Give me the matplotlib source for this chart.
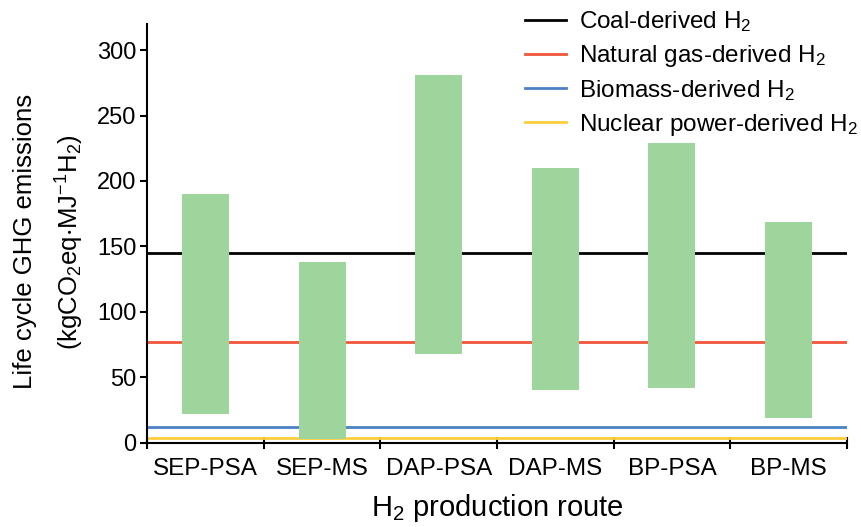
import matplotlib
matplotlib.use("Agg")
from matplotlib import pyplot as plt
import numpy as np

plt.rcParams['font.family'] = ['Liberation Sans', 'DejaVu Sans']
plt.rcParams['mathtext.fontset'] = 'custom'
plt.rcParams['mathtext.rm'] = 'Liberation Sans'
plt.rcParams['mathtext.it'] = 'Liberation Sans'
plt.rcParams['mathtext.default'] = 'regular'

routes = ['SEP-PSA', 'SEP-MS', 'DAP-PSA', 'DAP-MS', 'BP-PSA', 'BP-MS']
low = [22, 3, 68, 40, 42, 19]
high = [190, 138, 281, 210, 229, 169]

ref_names = ['Coal-derived H$_2$', 'Natural gas-derived H$_2$',
             'Biomass-derived H$_2$', 'Nuclear power-derived H$_2$']
ref_values = [145, 77, 12, 3.5]
ref_colors = ['#000000', '#f0553a', '#4a82c3', '#fdcd3c']

fig = plt.figure(figsize=(8.62, 5.27), dpi=100)
ax = fig.add_axes([0.1709, 0.160, 0.8114, 0.7945])

x = np.arange(len(routes))
ax.bar(x, np.array(high) - np.array(low), bottom=low, width=0.405,
       color='#9dd59c', zorder=3)

for name, val, col in zip(ref_names, ref_values, ref_colors):
    ax.plot([-0.5, 5.5], [val, val], color=col, lw=2, label=name, zorder=2)

ax.set_xlim(-0.5, 5.5)
ax.set_ylim(0, 320)
ax.set_yticks([0, 50, 100, 150, 200, 250, 300])
ax.set_xticks(np.arange(-0.5, 6, 1))
ax.set_xticklabels([])
ax.set_xticks(x, minor=True)
ax.set_xticklabels(routes, minor=True, fontsize=17.5)
ax.tick_params(axis='x', which='minor', length=0, pad=11)
ax.tick_params(axis='x', which='major', direction='inout', length=8, width=1.5)
ax.tick_params(axis='y', labelsize=17, length=5, width=1.5, pad=3)

for s in ['top', 'right']:
    ax.spines[s].set_visible(False)
for s in ['left', 'bottom']:
    ax.spines[s].set_linewidth(1.5)

ax.set_xlabel('H$_2$ production route', fontsize=21, labelpad=9)
ax.set_ylabel('Life cycle GHG emissions\n(kgCO$_2$eq$\\cdot$MJ$^{-1}$H$_2$)',
              fontsize=18.5, linespacing=1.65)
ax.yaxis.set_label_coords(-0.088, 0.48)

fig.legend(loc='upper left', bbox_to_anchor=(0.609, 0.982), frameon=False,
           fontsize=17.5, handlelength=1.69, handletextpad=0.53, labelspacing=0.36,
           borderaxespad=0, borderpad=0)

fig.savefig('out.png', dpi=100)
